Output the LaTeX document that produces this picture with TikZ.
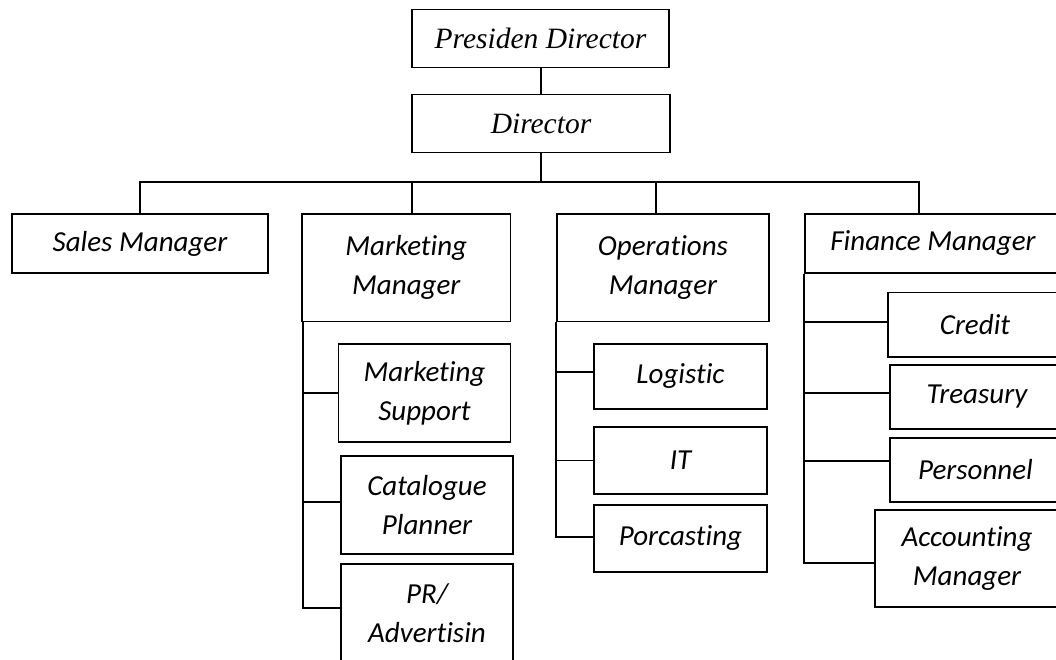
\documentclass[tikz,border=0pt]{standalone}
\usepackage{fontspec}
\setmainfont{Liberation Serif}
\newfontfamily\calfont{Carlito}[RawFeature={-liga;-clig;-dlig;-calt}]
\usetikzlibrary{calc}
\begin{document}
\begin{tikzpicture}[x=1pt,y=-1pt,
  line width=1.7pt,
  topbox/.style={draw, inner sep=0pt, align=center,
    font=\rmfamily\itshape\fontsize{29.5}{33}\selectfont},
  orgbox/.style={draw, inner sep=0pt, align=center,
    font=\calfont\itshape\fontsize{29}{39}\selectfont},
  link/.style={line width=1.7pt}]
\useasboundingbox (0,0) rectangle (1056,660);
\fill[white] (0,0) rectangle (1056,660);
\clip (0,0) rectangle (1056,660);

% top
\node[topbox, minimum width=257pt, minimum height=58pt] (pd) at (540.5,38.5) {Presiden Director};
\node[topbox, minimum width=258pt, minimum height=58pt] (dir) at (541,123.5) {Director};

% managers
\node[orgbox, minimum width=256pt, minimum height=59pt] (sales) at (140,243.5) {Sales Manager};
\node[orgbox, minimum width=208.5pt, minimum height=107.5pt] (mm) at (406.25,267.75) {Marketing\\Manager};
\node[orgbox, minimum width=212pt, minimum height=107.5pt] (om) at (663,267.75) {Operations\\Manager};
\node[orgbox, minimum width=256pt, minimum height=59pt] (fm) at (933,243.5) {Finance Manager};

% marketing
\node[orgbox, minimum width=172pt, minimum height=98pt] (ms) at (424.5,393) {Marketing\\Support};
\node[orgbox, minimum width=172pt, minimum height=98pt] (cp) at (427,505) {Catalogue\\Planner};
\node[orgbox, minimum width=172pt, minimum height=98pt] (pr) at (427,613) {PR/\\Advertisin};

% operations
\node[orgbox, minimum width=173pt, minimum height=65pt] (lg) at (680.5,376.5) {Logistic};
\node[orgbox, minimum width=173pt, minimum height=67pt] (it) at (680.5,460.5) {IT};
\node[orgbox, minimum width=173pt, minimum height=67pt] (pc) at (680.5,538.5) {Porcasting};

% finance
\node[orgbox, minimum width=174pt, minimum height=64.5pt] (cr) at (975,324.75) {Credit};
\node[orgbox, minimum width=174pt, minimum height=64pt] (tr) at (977,397) {Treasury};
\node[orgbox, minimum width=171pt, minimum height=64pt] (pe) at (975.5,470) {Personnel};
\node[orgbox, minimum width=184pt, minimum height=97pt] (ac) at (967,558.5) {Accounting\\Manager};

% top connectors
\draw[link] (pd.south) -- (dir.south |- pd.south) -- (dir.north);
\coordinate (bus) at ($(dir.south)+(0,29)$);
\draw[link] (dir.south) -- (bus);
\coordinate (dm) at ($(mm.north)+(6,0)$);
\coordinate (do) at ($(om.north)+(-7,0)$);
\coordinate (df) at ($(fm.north)+(-14,0)$);
\draw[link] (sales.north) |- (bus) -| (df);
\draw[link] (dm) -- (dm |- bus);
\draw[link] (do) -- (do |- bus);

% marketing branch
\coordinate (mt) at ($(mm.south west)+(2,0)$);
\coordinate (m1) at (ms.west);
\coordinate (m2) at ($(cp.west)+(0,-3)$);
\coordinate (m3) at ($(pr.west)+(0,-5)$);
\draw[link] (mt) |- (m3);
\draw[link] (m1) -- (m1 -| mt);
\draw[link] (m2) -- (m2 -| mt);

% operations branch
\coordinate (ot) at (om.south west);
\coordinate (o1) at ($(lg.west)+(0,-4.5)$);
\coordinate (o2) at (it.west);
\coordinate (o3) at ($(pc.west)+(0,-1.5)$);
\draw[link] (ot) |- (o3);
\draw[link] (o1) -- (o1 -| ot);
\draw[link] (o2) -- (o2 -| ot);

% finance branch
\coordinate (ft) at (fm.south west);
\coordinate (f1) at ($(cr.west)+(0,-2.75)$);
\coordinate (f2) at ($(tr.west)+(0,-4)$);
\coordinate (f3) at ($(pe.west)+(0,-9)$);
\coordinate (f4) at ($(ac.west)+(0,4.5)$);
\draw[link] (ft) |- (f4);
\draw[link] (f1) -- (f1 -| ft);
\draw[link] (f2) -- (f2 -| ft);
\draw[link] (f3) -- (f3 -| ft);
\end{tikzpicture}
\end{document}
